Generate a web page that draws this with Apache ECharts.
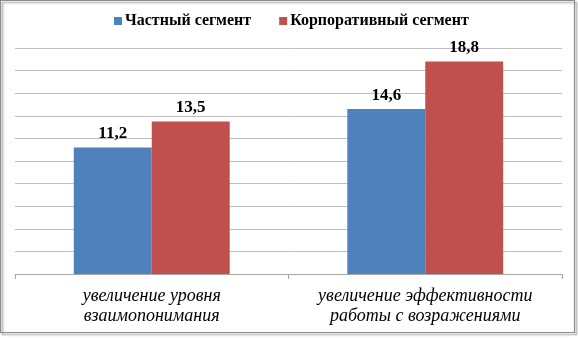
<!DOCTYPE html>
<html><head><meta charset="utf-8">
<script src="https://cdn.jsdelivr.net/npm/echarts@6/dist/echarts.min.js"></script>
<style>html,body{margin:0;padding:0;background:#fff}#c{width:578px;height:338px}</style>
</head><body><div id="c"></div>
<script>
const categories = ['увеличение уровня\nвзаимопонимания', 'увеличение эффективности\nработы с возражениями'];
const seriesNames = ['Частный сегмент', 'Корпоративный сегмент'];
const privateValues = [11.2, 14.6];
const corporateValues = [13.5, 18.8];
const colors = ['#4F81BD', '#C0504D'];
const font = '"Liberation Serif", "Times New Roman", serif';
const fmt = p => String(p.value).replace('.', ',');
const chart = echarts.init(document.getElementById('c'), null, {renderer: 'canvas'});
chart.setOption({
  animation: false,
  graphic: [{
    type: 'rect', z: 100, silent: true,
    shape: {x: 0.5, y: 0.5, width: 574, height: 332},
    style: {fill: 'none', stroke: '#8c8c8c', lineWidth: 1.2,
      shadowColor: 'rgba(0,0,0,0.45)', shadowBlur: 2, shadowOffsetX: 2, shadowOffsetY: 2}
  }],
  legend: {
    left: 114, top: 13, padding: 0, itemWidth: 8, itemHeight: 8, itemGap: 28,
    icon: 'rect',
    textStyle: {fontFamily: font, fontWeight: 'bold', fontSize: 16, color: '#000', padding: [0, 0, 0, -2]},
    data: seriesNames
  },
  grid: {left: 15, right: 16, top: 48, bottom: 64},
  xAxis: {
    type: 'category', data: categories,
    axisLine: {lineStyle: {color: '#a6a6a6'}},
    axisTick: {show: true, length: 5, lineStyle: {color: '#a6a6a6'}},
    axisLabel: {interval: 0, hideOverlap: false, fontFamily: font, fontStyle: 'italic', fontSize: 18, color: '#000', lineHeight: 20, margin: 12}
  },
  yAxis: {
    type: 'value', min: 0, max: 20, interval: 2,
    axisLabel: {show: false}, axisLine: {show: false}, axisTick: {show: false},
    splitLine: {lineStyle: {color: '#bfbfbf'}}
  },
  series: [
    {name: seriesNames[0], type: 'bar', data: privateValues, barWidth: '28.5%', barGap: '0%',
     itemStyle: {color: colors[0]},
     label: {show: true, position: 'top', distance: 5, formatter: fmt, fontFamily: font, fontWeight: 'bold', fontSize: 17, color: '#000'}},
    {name: seriesNames[1], type: 'bar', data: corporateValues, barWidth: '28.5%', barGap: '0%',
     itemStyle: {color: colors[1]},
     label: {show: true, position: 'top', distance: 5, formatter: fmt, fontFamily: font, fontWeight: 'bold', fontSize: 17, color: '#000'}}
  ]
});
</script></body></html>
